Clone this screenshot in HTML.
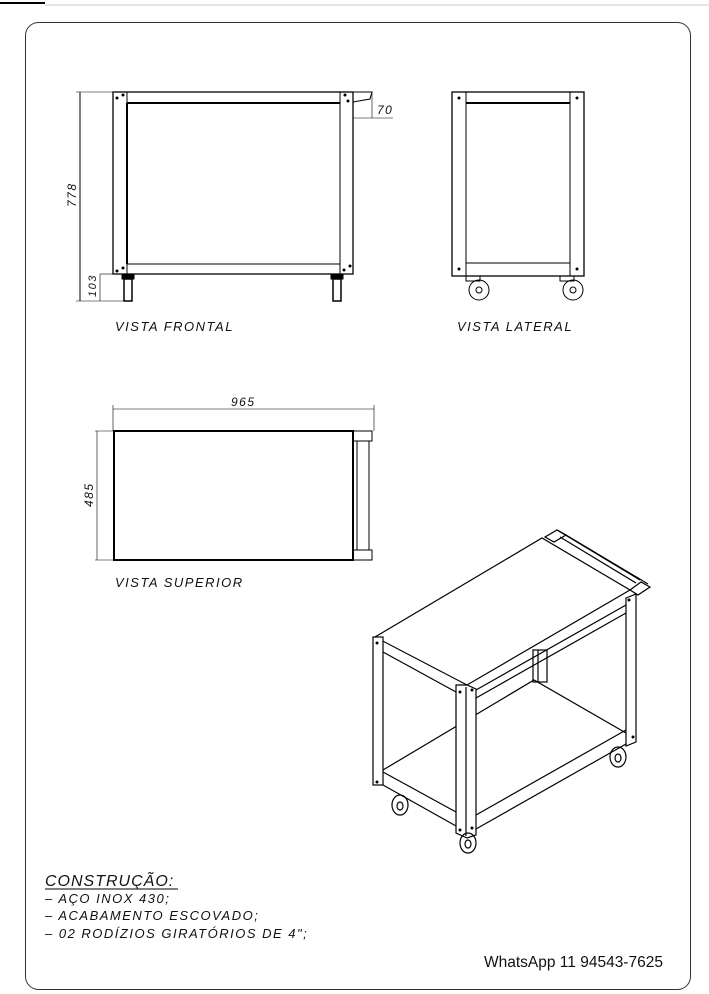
<!DOCTYPE html>
<html><head><meta charset="utf-8"><style>
html,body{margin:0;padding:0;background:#fff}
svg{display:block}
text{font-family:"Liberation Sans",sans-serif;fill:#111}
.it{font-style:italic;letter-spacing:1.5px}
</style></head><body>
<svg width="709" height="994" viewBox="0 0 709 994" xmlns="http://www.w3.org/2000/svg" fill="none" stroke="#000" stroke-width="1">
<line x1="0" y1="3" x2="45" y2="3" stroke-width="2"/>
<line x1="45" y1="5" x2="709" y2="5" stroke="#ccc"/>
<rect x="25.5" y="22.5" width="665" height="967" rx="13" stroke="#333"/>

<!-- FRONTAL -->
<rect x="113" y="92" width="240" height="182" stroke-width="1.3"/>
<rect x="113" y="92" width="14" height="182"/>
<rect x="340" y="92" width="13" height="182"/>
<line x1="127" y1="103" x2="340" y2="103" stroke-width="2"/>
<line x1="127" y1="264" x2="340" y2="264"/>
<line x1="127" y1="103" x2="127" y2="264" stroke-width="2"/>
<path d="M353 92 H372 L370 99 L353 102"/>
<g fill="#000" stroke="none"><circle cx="117" cy="98" r="1.5"/><circle cx="123" cy="95" r="1.5"/><circle cx="345" cy="95" r="1.5"/><circle cx="348" cy="101" r="1.5"/><circle cx="117" cy="271" r="1.5"/><circle cx="123" cy="268" r="1.5"/><circle cx="344" cy="270" r="1.5"/><circle cx="350" cy="266" r="1.5"/></g>
<rect x="122" y="274" width="12" height="5" fill="#000"/><rect x="124" y="279" width="8" height="22" fill="#fff" stroke-width="1.5"/>
<rect x="331" y="274" width="12" height="5" fill="#000"/><rect x="333" y="279" width="8" height="22" fill="#fff" stroke-width="1.5"/>
<line x1="80" y1="92" x2="80" y2="301"/><line x1="76" y1="92" x2="113" y2="92" stroke-width="0.6"/><line x1="76" y1="301" x2="124" y2="301" stroke-width="0.6"/>
<line x1="100" y1="274" x2="100" y2="301" stroke-width="0.6"/><line x1="100" y1="274" x2="113" y2="274" stroke-width="0.6"/>
<line x1="372" y1="92" x2="372" y2="118" stroke-width="0.6"/><line x1="353" y1="118" x2="393" y2="118" stroke-width="0.6"/>
<text x="0" y="0" font-size="12" stroke="none" class="it" transform="translate(76,207) rotate(-90)">778</text>
<text x="0" y="0" font-size="11" stroke="none" class="it" transform="translate(96,297) rotate(-90)">103</text>
<text x="377" y="114" font-size="12" stroke="none" class="it">70</text>

<!-- LATERAL -->
<rect x="452" y="92" width="132" height="184" stroke-width="1.3"/>
<rect x="452" y="92" width="14" height="184"/>
<rect x="570" y="92" width="14" height="184"/>
<line x1="466" y1="103" x2="570" y2="103" stroke-width="2"/>
<line x1="466" y1="263" x2="570" y2="263"/>
<g fill="#000" stroke="none"><circle cx="459" cy="98" r="1.5"/><circle cx="577" cy="98" r="1.5"/><circle cx="459" cy="269" r="1.5"/><circle cx="577" cy="269" r="1.5"/></g>
<rect x="466" y="276" width="14" height="5"/><rect x="560" y="276" width="14" height="5"/>
<circle cx="479" cy="290" r="10"/><circle cx="479" cy="290" r="3"/>
<circle cx="573" cy="290" r="10"/><circle cx="573" cy="290" r="3"/>

<text x="115" y="331" font-size="13" stroke="none" class="it">VISTA  FRONTAL</text>
<text x="457" y="331" font-size="13" stroke="none" class="it">VISTA  LATERAL</text>

<!-- SUPERIOR -->
<rect x="114" y="431" width="239" height="129" stroke-width="2"/>
<rect x="353" y="431" width="19" height="10"/><rect x="353" y="550" width="19" height="10"/>
<line x1="357" y1="441" x2="357" y2="550"/><line x1="369" y1="441" x2="369" y2="550"/>
<line x1="113" y1="409" x2="374" y2="409" stroke-width="0.6"/>
<line x1="113" y1="405" x2="113" y2="431" stroke-width="0.6"/><line x1="374" y1="405" x2="374" y2="431" stroke-width="0.6"/>
<line x1="97" y1="431" x2="97" y2="560" stroke-width="0.6"/><line x1="95" y1="431" x2="114" y2="431" stroke-width="0.6"/><line x1="95" y1="560" x2="114" y2="560" stroke-width="0.6"/>
<text x="231" y="406" font-size="12" stroke="none" class="it">965</text>
<text x="0" y="0" font-size="12" stroke="none" class="it" transform="translate(93,507) rotate(-90)">485</text>
<text x="115" y="587" font-size="13" stroke="none" class="it">VISTA  SUPERIOR</text>

<!-- ISO -->
<g stroke-width="1.2">
<!-- handle -->
<path d="M545 537 L557 530 L566 535 L554 542 Z"/>
<path d="M557 530 L640 580"/>
<path d="M566 535 L648 584"/>
<path d="M560 537 L636 583"/>
<path d="M630 590 L641 582 L650 587 L638 595 Z"/>
<path d="M375 637 L542 538 L630 590 L467 685 Z"/>
<rect x="373" y="637" width="10" height="148" fill="#fff"/>
<line x1="383" y1="652" x2="456" y2="692"/>
<line x1="476" y1="690" x2="626" y2="605"/>
<line x1="476" y1="698" x2="626" y2="613"/>
<path d="M383 770 L534 680 L626 733"/>
<line x1="383" y1="785" x2="456" y2="826"/>
<line x1="383" y1="772" x2="456" y2="812"/>
<line x1="476" y1="829" x2="626" y2="744"/>
<line x1="476" y1="815" x2="626" y2="730"/>
<rect x="533" y="650" width="14" height="32"/>
<line x1="538" y1="650" x2="538" y2="682"/>
<path d="M456 685 L467 685 L476 689 V835 L467 838 L456 833 Z" fill="#fff"/>
<line x1="466" y1="687" x2="466" y2="836"/>
<path d="M626 598 L636 594 V742 L626 746 Z" fill="#fff"/>
<ellipse cx="400" cy="805" rx="8" ry="10"/><ellipse cx="400" cy="806" rx="3" ry="4"/>
<ellipse cx="468" cy="843" rx="8" ry="10"/><ellipse cx="468" cy="844" rx="3" ry="4"/>
<ellipse cx="618" cy="757" rx="8" ry="10"/><ellipse cx="618" cy="758" rx="3" ry="4"/>
</g>
<g fill="#000" stroke="none"><circle cx="377" cy="643" r="1.5"/><circle cx="377" cy="782" r="1.5"/><circle cx="460" cy="692" r="1.5"/><circle cx="472" cy="690" r="1.5"/><circle cx="460" cy="830" r="1.5"/><circle cx="472" cy="828" r="1.5"/><circle cx="629" cy="600" r="1.5"/><circle cx="633" cy="737" r="1.5"/></g>

<text x="45" y="886" font-size="16" stroke="none" class="it" style="letter-spacing:1px">CONSTRUÇÃO:</text>
<line x1="45" y1="889" x2="178" y2="889"/>
<text x="45" y="903" font-size="13" stroke="none" class="it">–  AÇO  INOX  430;</text>
<text x="45" y="920" font-size="13" stroke="none" class="it">–  ACABAMENTO  ESCOVADO;</text>
<text x="45" y="938" font-size="13" stroke="none" class="it">–  02  RODÍZIOS  GIRATÓRIOS  DE  4";</text>
<text x="484" y="967" font-size="15.5" stroke="none">WhatsApp 11 94543-7625</text>
</svg>
</body></html>
